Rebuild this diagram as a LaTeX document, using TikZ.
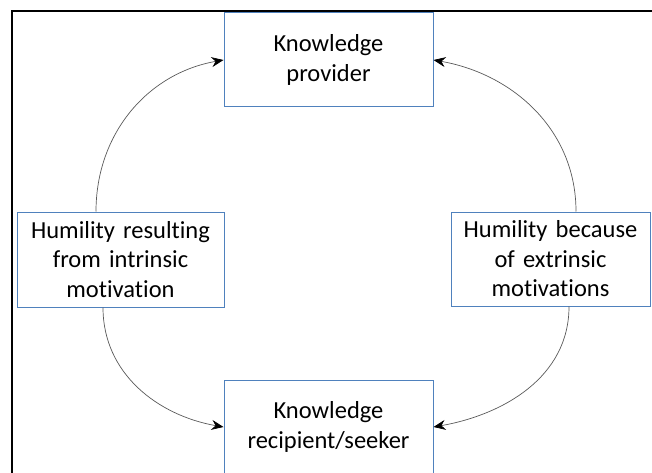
\documentclass[tikz,border=0pt]{standalone}
\usepackage{fontspec}
\setmainfont{Carlito}[Ligatures=NoCommon]
\usetikzlibrary{arrows.meta}
\definecolor{boxblue}{RGB}{79,129,189}

\begin{document}
\begin{tikzpicture}[
              x=1pt,y=1pt,
              box/.style={draw=boxblue, line width=1pt, inner sep=0pt,
                          minimum height=94pt, text width=195pt, align=center,
                          font=\fontsize{24.5}{29.5}\selectfont},
              link/.style={draw=black!65, line width=0.7pt,
                           -{Stealth[black,length=12pt,width=10pt,inset=4pt]}}
            ]
              \useasboundingbox (0,0) rectangle (652,472);
              \draw[line width=2pt] (652,460.5) -| (12,-2);
              \node[box, minimum width=209pt] (provider) at (328.5,412) {Knowledge\\provider};
              \node[box, minimum width=209pt] (seeker) at (328.5,45) {Knowledge\\recipient/seeker};
              \node[box, minimum width=207pt, minimum height=95pt] (intrinsic) at (120.5,212.5)
                {Humility resulting\\from intrinsic\\motivation};
              \node[box, minimum width=199pt] (extrinsic) at (550.5,213)
                {Humility because\\of extrinsic\\motivations};
              \draw[link] ([xshift=-24.5pt]intrinsic.north) to[out=90,in=190] (provider.west);
              \draw[link] ([xshift=25.5pt]extrinsic.north) to[out=90,in=-10] (provider.east);
              \draw[link] ([xshift=-17.5pt]intrinsic.south) to[out=-90,in=170] (seeker.west);
              \draw[link] ([xshift=18.5pt]extrinsic.south) to[out=-90,in=10] (seeker.east);
            \end{tikzpicture}
\end{document}
